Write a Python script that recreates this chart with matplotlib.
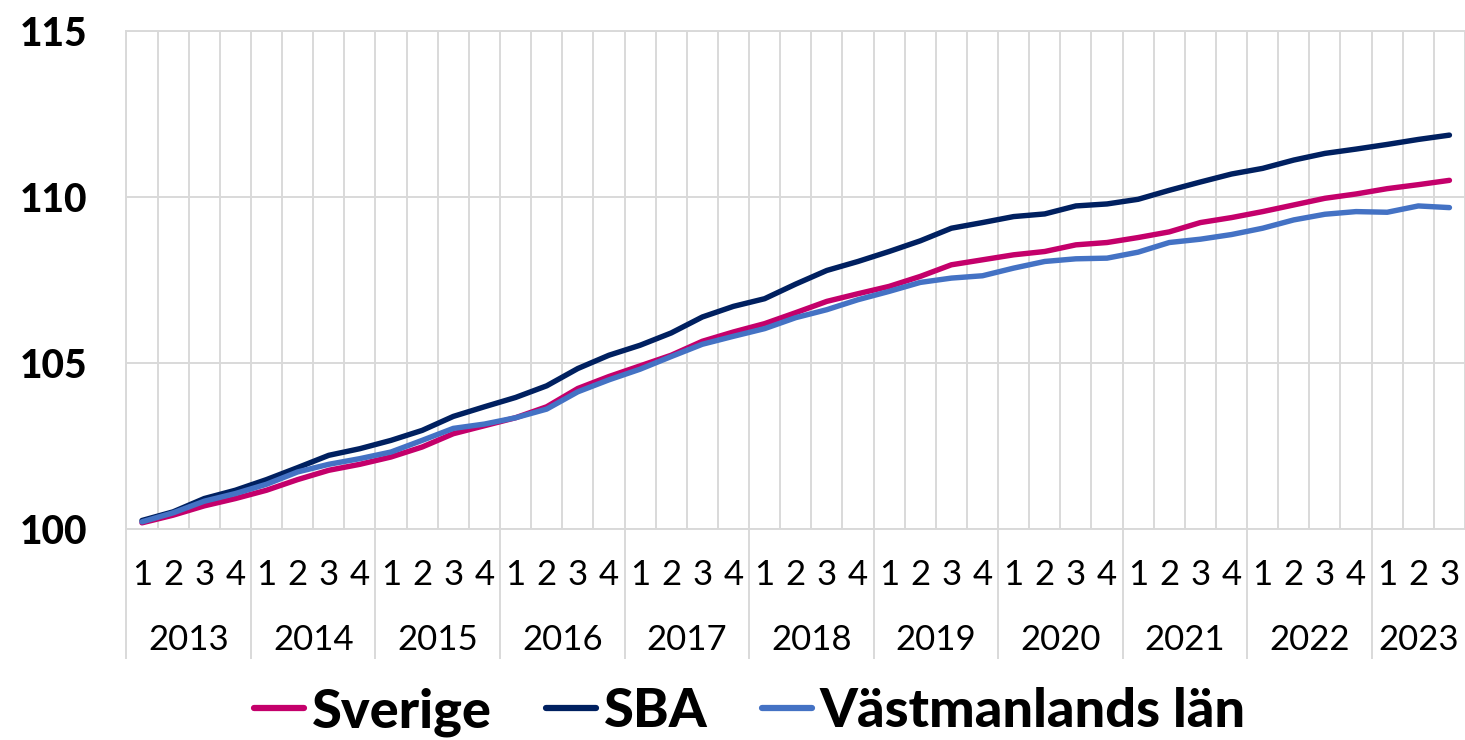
import numpy as np
import matplotlib
matplotlib.use("Agg")
import matplotlib.pyplot as plt
import matplotlib.transforms as mtransforms

plt.rcParams['font.family'] = ['Lato', 'DejaVu Sans']

# Kvartal 2013 Q1 - 2023 Q3
years = ['2013', '2014', '2015', '2016', '2017', '2018', '2019', '2020', '2021', '2022', '2023']
quarters = ['1', '2', '3', '4'] * 10 + ['1', '2', '3']

sverige = [100.20, 100.43, 100.71, 100.93, 101.18, 101.50, 101.78, 101.96, 102.18, 102.48,
           102.88, 103.12, 103.36, 103.69, 104.24, 104.60, 104.92, 105.24, 105.66, 105.94,
           106.19, 106.52, 106.86, 107.09, 107.31, 107.61, 107.96, 108.11, 108.26, 108.36,
           108.56, 108.63, 108.78, 108.95, 109.23, 109.38, 109.56, 109.76, 109.96, 110.09,
           110.25, 110.37, 110.50]
sba = [100.27, 100.53, 100.93, 101.18, 101.50, 101.86, 102.23, 102.43, 102.68, 102.98,
       103.40, 103.69, 103.97, 104.32, 104.84, 105.24, 105.54, 105.91, 106.39, 106.71,
       106.94, 107.38, 107.79, 108.06, 108.36, 108.68, 109.06, 109.23, 109.41, 109.49,
       109.73, 109.79, 109.93, 110.20, 110.45, 110.69, 110.86, 111.11, 111.31, 111.44,
       111.58, 111.73, 111.86]
vastmanland = [100.23, 100.50, 100.85, 101.08, 101.36, 101.73, 101.96, 102.13, 102.33, 102.68,
               103.04, 103.17, 103.36, 103.62, 104.14, 104.50, 104.82, 105.20, 105.57, 105.81,
               106.04, 106.37, 106.61, 106.91, 107.16, 107.43, 107.56, 107.63, 107.86, 108.06,
               108.14, 108.16, 108.34, 108.63, 108.73, 108.87, 109.06, 109.31, 109.48, 109.56,
               109.54, 109.73, 109.68]

series = {'Sverige': (sverige, '#C4006B'),
          'SBA': (sba, '#002060'),
          'Västmanlands län': (vastmanland, '#4472C4')}

grid_col = '#d9d9d9'

fig = plt.figure(figsize=(14.65, 7.4), dpi=100)
ax = fig.add_axes([0.0863, 0.2845, 0.9137, 0.674])

x = np.arange(len(quarters))
for name, (vals, col) in series.items():
    ax.plot(x, vals, color=col, lw=3.9, label=name, solid_capstyle='round', solid_joinstyle='round')

ax.set_xlim(-0.5, len(quarters) - 0.5)
ax.set_ylim(100, 115)
ax.set_yticks([100, 105, 110, 115])
ax.set_xticks(np.arange(-0.5, len(quarters), 1), minor=True)
ax.set_xticks([])
ax.grid(True, which='minor', axis='x', color=grid_col, lw=1.4)
ax.grid(True, which='major', axis='y', color=grid_col, lw=1.4)
ax.tick_params(axis='y', length=0, pad=28, labelsize=28)
ax.tick_params(axis='x', which='both', length=0)
for lbl in ax.get_yticklabels():
    lbl.set_fontweight('black')

for side in ['right']:
    ax.spines[side].set_visible(False)
for side in ['left', 'bottom', 'top']:
    ax.spines[side].set_color(grid_col)
    ax.spines[side].set_linewidth(1.4)

# kvartal och år under axeln
trans = mtransforms.blended_transform_factory(ax.transData, ax.transAxes)
for i, q in enumerate(quarters):
    ax.text(i, -0.1112, q, transform=trans, ha='center', va='baseline', fontsize=25)

start = 0
for yr in years:
    n = quarters[start:].index('4') + 1 if '4' in quarters[start:] else len(quarters) - start
    ax.text(start + (n - 1) / 2, -0.2415, yr, transform=trans, ha='center', va='baseline', fontsize=25)
    ax.plot([start - 0.5, start - 0.5], [0, -0.2575], transform=trans, color=grid_col,
            lw=1.4, clip_on=False)
    start += n

fig.legend(loc='center', bbox_to_anchor=(750 / 1465, 0.038), ncol=3, frameon=False,
           prop={'size': 39, 'weight': 'black'}, handlelength=0.92, handletextpad=0.15,
           columnspacing=1.0)
for line in fig.legends[0].get_lines():
    line.set_linewidth(4.5)

fig.savefig('out.png', dpi=100)
